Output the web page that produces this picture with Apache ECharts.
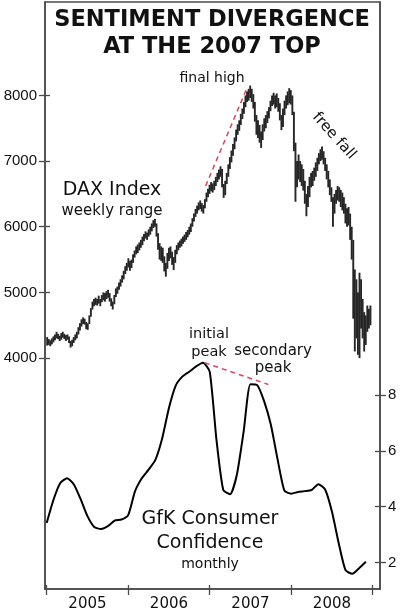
<!DOCTYPE html>
<html>
<head>
<meta charset="utf-8">
<script src="https://cdn.jsdelivr.net/npm/echarts@6/dist/echarts.min.js"></script>
<style>html,body{margin:0;padding:0;background:#fff;}#c{width:400px;height:612px;}</style>
</head>
<body>
<div id="c"></div>
<script>
// ---- Data ----
var yearLabels = ['2005', '2006', '2007', '2008'];
var daxTicks = [4000, 5000, 6000, 7000, 8000];
var gfkTicks = [2, 4, 6, 8];
var yearTicks = [2005, 2006, 2007, 2008, 2009];

// DAX weekly range, first week starting 3 Jan 2005
var daxWeekLow = [
 4190,4200,4180,4210,4240,4270,4300,4290,4260,4280,4310,4290,4260,4280,4230,4160,4180,4230,4270,4300,
 4360,4420,4480,4520,4510,4440,4430,4520,4630,4740,4790,4810,4800,4830,4790,4850,4880,4860,4900,4920,
 4860,4790,4740,4820,4930,4980,5040,5090,5150,5200,5280,5330,5380,5330,5370,5450,5530,5580,5600,5640,
 5680,5720,5780,5820,5800,5850,5880,5930,5980,6000,5850,5650,5500,5480,5450,5320,5240,5360,5480,5520,
 5420,5340,5450,5580,5640,5680,5700,5740,5770,5800,5840,5880,5920,6000,6080,6150,6200,6250,6270,6230,
 6200,6280,6380,6450,6500,6540,6520,6560,6620,6680,6720,6760,6600,6440,6480,6650,6760,6880,6980,7080,
 7180,7300,7400,7460,7550,7640,7720,7820,7900,7920,7960,7900,7800,7600,7400,7350,7280,7200,7320,7450,
 7500,7580,7650,7760,7840,7860,7800,7820,7750,7620,7470,7520,7700,7800,7850,7880,7860,7700,7150,6380,
 6600,6720,6680,6620,6550,6350,6160,6300,6450,6600,6620,6700,6760,6850,6950,7000,7020,6950,6850,6720,
 6600,6480,6380,6000,6200,6350,6400,6380,6300,6250,6200,6050,6000,6020,5800,5500,4600,4100,4300,4050,
 4000,4450,4300,4100,4200,4400,4450,4500
];
var daxWeekHigh = [
 4320,4290,4270,4300,4330,4360,4400,4370,4340,4380,4400,4370,4350,4360,4330,4260,4280,4320,4360,4400,
 4470,4530,4590,4620,4600,4550,4530,4650,4760,4860,4900,4920,4900,4950,4900,4960,5000,4990,5020,5040,
 4990,4910,4860,4960,5060,5090,5150,5200,5260,5330,5400,5450,5520,5480,5500,5580,5640,5700,5730,5760,
 5800,5850,5890,5930,5910,5960,6000,6050,6100,6120,6050,5900,5750,5700,5680,5550,5450,5600,5680,5700,
 5620,5540,5650,5720,5760,5790,5820,5850,5880,5920,5950,6000,6050,6130,6200,6270,6320,6370,6400,6360,
 6330,6420,6520,6580,6640,6680,6660,6700,6760,6820,6870,6920,6880,6650,6700,6820,6950,7060,7160,7260,
 7360,7480,7560,7620,7720,7800,7900,8000,8060,8100,8150,8100,8020,7900,7700,7620,7550,7450,7560,7650,
 7700,7760,7820,7920,8000,8040,8000,8030,7960,7880,7700,7800,7920,8000,8060,8110,8080,8000,7750,7280,
 7000,7100,7000,6950,6880,6700,6500,6620,6760,6820,6850,6900,6980,7050,7120,7180,7220,7150,7050,6950,
 6850,6720,6600,6450,6500,6560,6620,6600,6560,6520,6450,6350,6280,6300,6200,6000,5800,5350,5200,5000,
 5300,5200,4900,4700,4650,4800,4750,4800
];

// GfK consumer confidence, monthly from Jan 2005
var gfkMonthly = [
 3.42,4.25,4.85,5.02,4.80,4.27,3.66,3.27,3.20,3.30,3.50,3.54,
 3.70,4.55,5.02,5.33,5.68,6.45,7.55,8.35,8.68,8.85,9.04,9.17,
 8.85,6.40,4.60,4.45,5.15,6.70,8.40,8.37,7.80,6.95,5.70,4.58,
 4.47,4.53,4.56,4.60,4.81,4.62,3.83,2.69,1.72,1.59,1.79,2.02
];

// red dashed divergence lines
var daxDivergence = [[2006.95, 6620], [2007.46, 8120]];
var gfkDivergence = [[2006.94, 9.17], [2007.72, 8.39]];

// ---- Build series data ----
var daxData = daxWeekLow.map(function (lo, i) {
  return [2005 + (i * 7 + 2) / 365.25, lo, daxWeekHigh[i]];
});
var gfkData = gfkMonthly.map(function (v, m) { return [2005 + m / 12, v]; });

var AX = '#4a4a4a';
var TXT = '#111';
var SANS = '"DejaVu Sans", sans-serif';

var chart = echarts.init(document.getElementById('c'), null, {renderer: 'canvas'});

function yAx(pos, min, max, ticks, inside, showLabel) {
  return {
    type: 'value', position: pos, min: min, max: max,
    splitLine: {show: false},
    axisLine: {show: !inside, onZero: false, lineStyle: {color: AX, width: 1.5}},
    axisTick: {show: true, inside: inside, length: inside ? 5 : 6, customValues: ticks,
               lineStyle: {color: AX, width: 1.3}},
    axisLabel: {show: showLabel, customValues: ticks, margin: 8, color: TXT,
                fontFamily: '"Liberation Sans", Arial, sans-serif', fontSize: 15,
                formatter: function (v) { return String(v); }}
  };
}

var option = {
  backgroundColor: '#fff',
  animation: false,
  grid: {left: 45, right: 20, top: 2, bottom: 21, show: true, borderColor: AX, borderWidth: 1.5,
         containLabel: false},
  xAxis: [
    {
      type: 'value', position: 'bottom', min: 2004.979, max: 2009.09,
      splitLine: {show: false},
      axisLine: {onZero: false, lineStyle: {color: AX, width: 1.5}},
      axisTick: {show: true, length: 6, customValues: yearTicks, lineStyle: {color: AX, width: 1.3}},
      axisLabel: {show: true, customValues: yearLabels.map(function (y) { return +y + 0.5; }),
                  margin: 8, color: TXT, fontFamily: SANS, fontSize: 15,
                  formatter: function (v) { return String(Math.floor(v)); }}
    },
    {
      type: 'value', position: 'bottom', min: 2004.979, max: 2009.09,
      splitLine: {show: false},
      axisLine: {show: false, onZero: false},
      axisTick: {show: true, inside: true, length: 4, customValues: yearTicks, lineStyle: {color: AX, width: 1.3}},
      axisLabel: {show: false}
    }
  ],
  yAxis: [
    yAx('left', 484, 9422, daxTicks, false, true),
    yAx('left', 484, 9422, daxTicks, true, false),
    yAx('right', 1.044, 22.13, gfkTicks, false, true),
    yAx('right', 1.044, 22.13, gfkTicks, true, false)
  ],
  series: [
    {
      type: 'custom', xAxisIndex: 0, yAxisIndex: 0, data: daxData,
      encode: {x: 0, y: [1, 2]},
      renderItem: function (params, api) {
        var p1 = api.coord([api.value(0), api.value(1)]);
        var p2 = api.coord([api.value(0), api.value(2)]);
        return {type: 'line', shape: {x1: p1[0], y1: p1[1], x2: p2[0], y2: p2[1]},
                style: {stroke: '#262626', lineWidth: 1.9}};
      }
    },
    {
      type: 'line', xAxisIndex: 0, yAxisIndex: 2, data: gfkData, showSymbol: false, smooth: 0.2,
      lineStyle: {color: '#000', width: 2}
    },
    {
      type: 'line', xAxisIndex: 0, yAxisIndex: 0, data: daxDivergence, showSymbol: false,
      lineStyle: {color: '#d9465a', width: 1.5, type: [5, 4]}
    },
    {
      type: 'line', xAxisIndex: 0, yAxisIndex: 2, data: gfkDivergence, showSymbol: false,
      lineStyle: {color: '#d9465a', width: 1.5, type: [5, 4]}
    }
  ],
  graphic: [
    {type: 'text', x: 212, y: 20, style: {text: 'SENTIMENT DIVERGENCE', align: 'center',
      verticalAlign: 'middle', fill: TXT, font: 'bold 22.5px ' + SANS}},
    {type: 'text', x: 212, y: 47, style: {text: 'AT THE 2007 TOP', align: 'center',
      verticalAlign: 'middle', fill: TXT, font: 'bold 22.5px ' + SANS}},
    {type: 'text', x: 212, y: 78, style: {text: 'final high', align: 'center', verticalAlign: 'middle',
      fill: TXT, font: '14px ' + SANS}},
    {type: 'text', x: 112, y: 190, style: {text: 'DAX Index', align: 'center', verticalAlign: 'middle',
      fill: TXT, font: '19px ' + SANS}},
    {type: 'text', x: 112, y: 211, style: {text: 'weekly range', align: 'center', verticalAlign: 'middle',
      fill: TXT, font: '15px ' + SANS}},
    {type: 'text', x: 209, y: 334, style: {text: 'initial', align: 'center', verticalAlign: 'middle',
      fill: TXT, font: '14.5px ' + SANS}},
    {type: 'text', x: 209, y: 352, style: {text: 'peak', align: 'center', verticalAlign: 'middle',
      fill: TXT, font: '14.5px ' + SANS}},
    {type: 'text', x: 273, y: 351, style: {text: 'secondary', align: 'center', verticalAlign: 'middle',
      fill: TXT, font: '15px ' + SANS}},
    {type: 'text', x: 273, y: 368, style: {text: 'peak', align: 'center', verticalAlign: 'middle',
      fill: TXT, font: '15px ' + SANS}},
    {type: 'text', x: 334, y: 136, rotation: -48 * Math.PI / 180, style: {text: 'free fall', align: 'center',
      verticalAlign: 'middle', fill: TXT, font: '15px ' + SANS}},
    {type: 'text', x: 210, y: 519, style: {text: 'GfK Consumer', align: 'center', verticalAlign: 'middle',
      fill: TXT, font: '19px ' + SANS}},
    {type: 'text', x: 210, y: 543, style: {text: 'Confidence', align: 'center', verticalAlign: 'middle',
      fill: TXT, font: '19px ' + SANS}},
    {type: 'text', x: 210, y: 564, style: {text: 'monthly', align: 'center', verticalAlign: 'middle',
      fill: TXT, font: '14px ' + SANS}}
  ]
};
chart.setOption(option);
</script>
</body>
</html>
